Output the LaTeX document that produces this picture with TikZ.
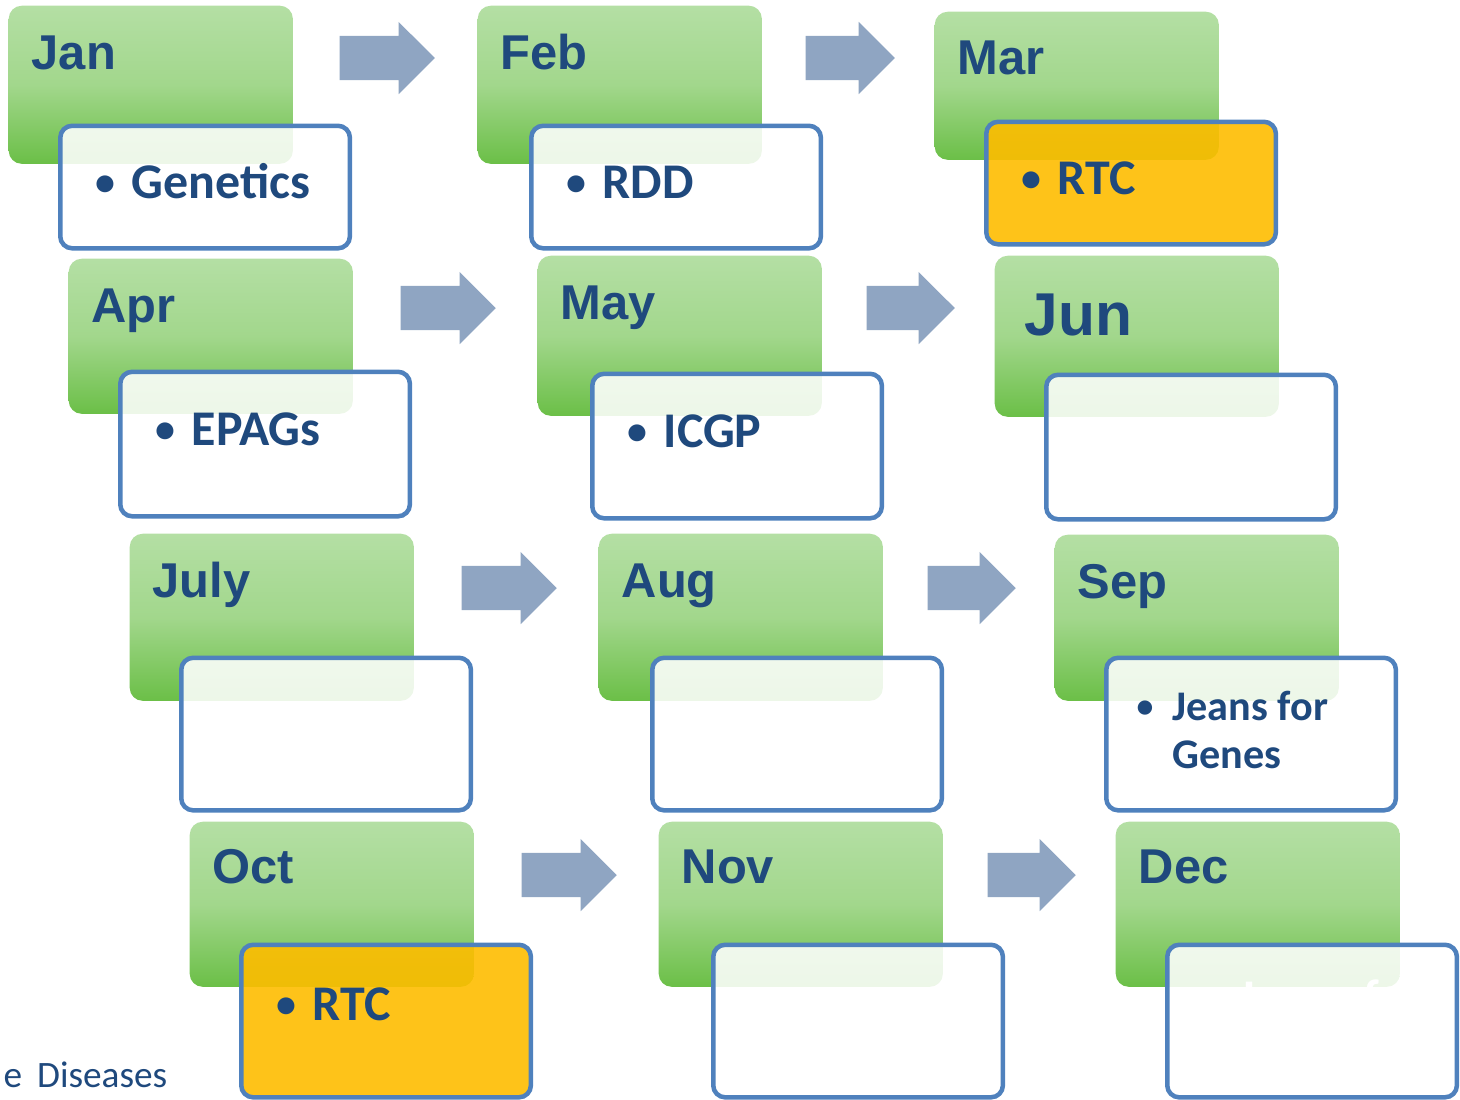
\documentclass[tikz,border=0pt]{standalone}
\usepackage{fontspec}
\setmainfont{Carlito}
\newfontfamily\monthfont{Liberation Sans}
\usetikzlibrary{calc}
\usetikzlibrary{positioning}
\usetikzlibrary{shapes.arrows}
\definecolor{greentop}{HTML}{B4DFA4}
\definecolor{greenmid}{HTML}{A2D78C}
\definecolor{greenbot}{HTML}{6BBF47}
\definecolor{textblue}{HTML}{1F497D}
\definecolor{itemblue}{HTML}{4F81BD}
\definecolor{arrowblue}{HTML}{8FA5C2}
\definecolor{rtcyellow}{RGB}{254,189,0}
\newcommand{\itembullet}{\makebox[0.36cm][l]{\raisebox{0.9pt}{\scalebox{0.8}{•}}}}
\tikzstyle{monthbox} = [anchor=north west, inner sep=0, minimum width=2.84cm, rounded corners=0.13cm, top color=greentop, bottom color=greenbot, middle color=greenmid]
\tikzstyle{itembox} = [anchor=north west, inner sep=0, minimum width=2.895cm, draw=itemblue, line width=0.045cm, rounded corners=0.12cm, fill=white, fill opacity=0.88, text opacity=1]
\tikzstyle{rtcbox} = [fill=rtcyellow, fill opacity=0.9]
\tikzstyle{monthlabel} = [anchor=base west, inner sep=0, text=textblue, font=\monthfont\bfseries\fontsize{13.9}{16}\selectfont]
\tikzstyle{itemlabel} = [anchor=base west, inner sep=0, text=textblue, font=\bfseries\fontsize{14.2}{17}\selectfont]
\tikzstyle{nextarrow} = [single arrow, anchor=tail, inner sep=0, text height=0.43cm, text depth=0cm, fill=arrowblue, minimum height=0.95cm, single arrow head extend=0.14cm]

\begin{document}
\begin{tikzpicture}[x=0.01cm, y=-0.01cm]
  \clip (0,0) rectangle (1460,1099);

  % first row
  \node[monthbox, minimum height=1.58cm] (jan) at (8,5) {};
  \node[itembox, minimum height=1.225cm] (jani) at ($(jan.south west)+(50,-41)$) {};
  \node[monthlabel] (janl) at ($(jan.north west)+(23,64)$) {Jan};
  \node[itemlabel] (jant) at ($(jani.north west)+(37,75)$) {\itembullet Genetics};

  \node[monthbox, minimum height=1.58cm] (feb) at (477,5) {};
  \node[itembox, minimum height=1.225cm] (febi) at ($(feb.south west)+(52,-41)$) {};
  \node[monthlabel] (febl) at ($(feb.north west)+(23,64)$) {Feb};
  \node[itemlabel] (febt) at ($(febi.north west)+(37,75)$) {\itembullet RDD};

  \node[monthbox, minimum height=1.48cm] (mar) at (934,11) {};
  \node[itembox, rtcbox, minimum height=1.225cm] (mari) at ($(mar.south west)+(50,-41)$) {};
  \node[monthlabel] (marl) at ($(mar.north west)+(23,63)$) {Mar};
  \node[itemlabel] (mart) at ($(mari.north west)+(37,75)$) {\itembullet RTC};

  \node[nextarrow] (janfeb) at (339,58) {};
  \node[nextarrow, minimum height=0.89cm] (febmar) at (805,58) {};

  % second row
  \node[monthbox, minimum height=1.55cm] (apr) at (68,258) {};
  \node[itembox, minimum height=1.445cm] (apri) at ($(apr.south west)+(50,-45)$) {};
  \node[monthlabel] (aprl) at ($(apr.north west)+(23,64)$) {Apr};
  \node[itemlabel] (aprt) at ($(apri.north west)+(37,76)$) {\itembullet EPAGs};

  \node[monthbox, minimum height=1.6cm] (may) at (537,255) {};
  \node[itembox, minimum height=1.445cm] (mayi) at ($(may.south west)+(53,-45)$) {};
  \node[monthlabel] (mayl) at ($(may.north west)+(23,64)$) {May};
  \node[itemlabel] (mayt) at ($(mayi.north west)+(37,76)$) {\itembullet ICGP};

  \node[monthbox, minimum height=1.61cm] (jun) at (994,255) {};
  \node[itembox, minimum height=1.445cm] (juni) at ($(jun.south west)+(50,-45)$) {};
  \node[monthlabel, font=\monthfont\bfseries\fontsize{17.2}{20}\selectfont] (junl) at ($(jun.north west)+(30,80)$) {Jun};

  \node[nextarrow] (aprmay) at (400,308) {};
  \node[nextarrow, minimum height=0.88cm] (mayjun) at (866,308) {};

  % third row
  \node[monthbox, minimum height=1.67cm] (jul) at (129,533) {};
  \node[itembox, minimum height=1.525cm] (juli) at ($(jul.south west)+(50,-46)$) {};
  \node[monthlabel] (jull) at ($(jul.north west)+(23,64)$) {July};

  \node[monthbox, minimum height=1.67cm] (aug) at (598,533) {};
  \node[itembox, minimum height=1.525cm] (augi) at ($(aug.south west)+(52,-46)$) {};
  \node[monthlabel] (augl) at ($(aug.north west)+(23,64)$) {Aug};

  \node[monthbox, minimum height=1.66cm] (sep) at (1054,534) {};
  \node[itembox, minimum height=1.525cm] (sepi) at ($(sep.south west)+(50,-46)$) {};
  \node[monthlabel] (sepl) at ($(sep.north west)+(23,64)$) {Sep};
  \node[itemlabel, font=\bfseries\fontsize{12}{13.6}\selectfont] (sept) at ($(sepi.north west)+(32,65)$)
    {\itembullet\parbox[t]{2.3cm}{Jeans for\\Genes}};

  \node[nextarrow] (julaug) at (461,588) {};
  \node[nextarrow, minimum height=0.88cm] (augsep) at (927,588) {};

  % fourth row
  \node[monthbox, minimum height=1.65cm] (oct) at (189,821) {};
  \node[itembox, rtcbox, minimum height=1.525cm] (octi) at ($(oct.south west)+(50,-45)$) {};
  \node[monthlabel] (octl) at ($(oct.north west)+(23,62)$) {Oct};
  \node[itemlabel] (octt) at ($(octi.north west)+(37,78)$) {\itembullet RTC};

  \node[monthbox, minimum height=1.65cm] (nov) at (658,821) {};
  \node[itembox, minimum height=1.525cm] (novi) at ($(nov.south west)+(53,-45)$) {};
  \node[monthlabel] (novl) at ($(nov.north west)+(23,62)$) {Nov};

  \node[monthbox, minimum height=1.65cm] (dec) at (1115,821) {};
  \node[itembox, minimum height=1.525cm] (deci) at ($(dec.south west)+(50,-45)$) {};
  \node[monthlabel] (decl) at ($(dec.north west)+(23,62)$) {Dec};
  \node[itemlabel, text=white] (dect) at ($(deci.north west)+(37,72)$) {\itembullet\parbox[t]{2.3cm}{Jeans for\\Genes}};

  \node[nextarrow] (octnov) at (521,875) {};
  \node[nextarrow, minimum height=0.88cm] (novdec) at (987,875) {};

  \node[anchor=base east, inner sep=0, text=textblue, font=\fontsize{10.6}{12}\selectfont] (footer) at (168,1087) {e\hspace{0.15cm}Diseases};
\end{tikzpicture}
\end{document}
